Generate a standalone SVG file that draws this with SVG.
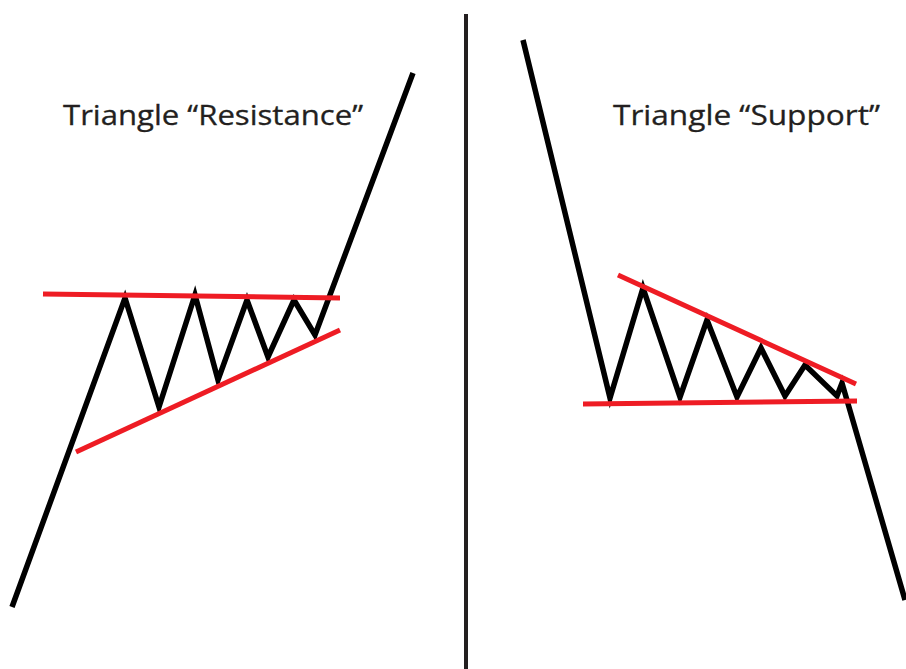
<svg xmlns="http://www.w3.org/2000/svg" width="906" height="669" viewBox="0 0 906 669">
<style>
.price{fill:none;stroke:#000;stroke-width:5.5;stroke-linejoin:miter;stroke-linecap:butt}
.trend{fill:none;stroke:#ee1c24;stroke-width:5;stroke-linecap:butt}
.label{font-family:"Open Sans","Noto Sans",sans-serif;font-size:28px;fill:#231f20;stroke:#231f20;stroke-width:0.3}
</style>
<rect width="906" height="669" fill="#fff"/>
<g id="divider"><line x1="466" y1="14" x2="466" y2="669" stroke="#231f20" stroke-width="4"/></g>
<g id="resistance">
<text class="label" x="63" y="125" textLength="300" lengthAdjust="spacingAndGlyphs">Triangle “Resistance”</text>
<polyline class="price" points="12,607 125,298 159,407 195,295 218,380 247,300 268,357 294,300 315,335 413,73"/>
<line class="trend" x1="43" y1="294" x2="340" y2="298"/>
<line class="trend" x1="76" y1="452" x2="340" y2="330"/>
</g>
<g id="support">
<text class="label" x="613" y="125" textLength="267" lengthAdjust="spacingAndGlyphs">Triangle “Support”</text>
<polyline class="price" points="523,40 610,398 643,288 680,397 707,320 737,397 761,348 785,396 805,365 837,396 842,383 905,600"/>
<line class="trend" x1="618" y1="275" x2="856" y2="384"/>
<line class="trend" x1="583" y1="404" x2="857" y2="401"/>
</g>
</svg>
